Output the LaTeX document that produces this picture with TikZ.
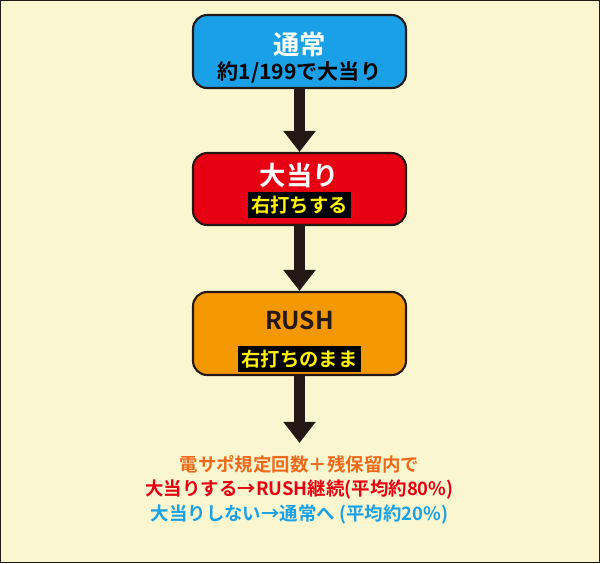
\documentclass[tikz,border=0pt]{standalone}
\usepackage{fontspec}
\setmainfont{Noto Sans CJK JP}[BoldFont={* Bold}]
\usetikzlibrary{arrows.meta,positioning}
\definecolor{bgyellow}{HTML}{FAF6D0}
\definecolor{tblue}{HTML}{1AA0E6}
\definecolor{tred}{HTML}{E60012}
\definecolor{torange}{HTML}{F39800}
\definecolor{tdark}{HTML}{231815}
\definecolor{tyellow}{HTML}{FFF100}
\definecolor{txtorange}{HTML}{EE6A1A}
\begin{document}
\begin{tikzpicture}[x=0.02cm,y=-0.02cm,
  box/.style={draw=tdark, line width=1.2pt, rounded corners=8pt, minimum width=4.26cm, inner sep=0pt},
  strip/.style={fill=black, text=tyellow, font=\bfseries\fontsize{11}{12}\selectfont, inner sep=2pt},
  arr/.style={-{Triangle[length=0.42cm,width=0.62cm]}, line width=0.24cm, draw=tdark}
]
\draw[tdark, fill=bgyellow, line width=0.6pt] (0.5,0.5) rectangle (599.5,562.5);
\useasboundingbox (0,0) rectangle (600,563);
% boxes
\node[box, fill=tblue, minimum height=1.46cm] (normal) at (299.5,51.5) {};
\node[font=\bfseries\fontsize{15}{16}\selectfont, text=white] (normalt) at (299.5,44) {通常};
\node[font=\bfseries\fontsize{12}{13}\selectfont, text=black] (normals) at (299.5,72) {約1/199で大当り};
\node[box, fill=tred, minimum height=1.44cm] (hit) at (299.5,189) {};
\node[font=\bfseries\fontsize{15}{16}\selectfont, text=white] (hitt) at (299.5,175) {大当り};
\node[strip] (hits) at (299.5,205) {右打ちする};
\node[box, fill=torange, minimum height=1.66cm] (rush) at (299.5,333.5) {};
\node[font=\bfseries\fontsize{14}{15}\selectfont, text=tdark] (rusht) at (299.5,320) {RUSH};
\node[strip] (rushs) at (299.5,359) {右打ちのまま};
% notes
\node[font=\bfseries\fontsize{10.5}{12}\selectfont, text=txtorange] (note1) at (299.5,464) {電サポ規定回数＋残保留内で};
\node[font=\bfseries\fontsize{10.5}{12}\selectfont, text=tred] (note2) at (299.5,490) {大当りする→RUSH継続(平均約80\%)};
\node[font=\bfseries\fontsize{10.5}{12}\selectfont, text=tblue] (note3) at (299.5,515) {大当りしない→通常へ (平均約20\%)};
% arrows
\draw[arr] (normal.south) -- (hit.north);
\draw[arr] (hit.south) -- (rush.north);
\draw[arr] (rush.south) -- ([yshift=0.12cm]note1.north);
\end{tikzpicture}
\end{document}
